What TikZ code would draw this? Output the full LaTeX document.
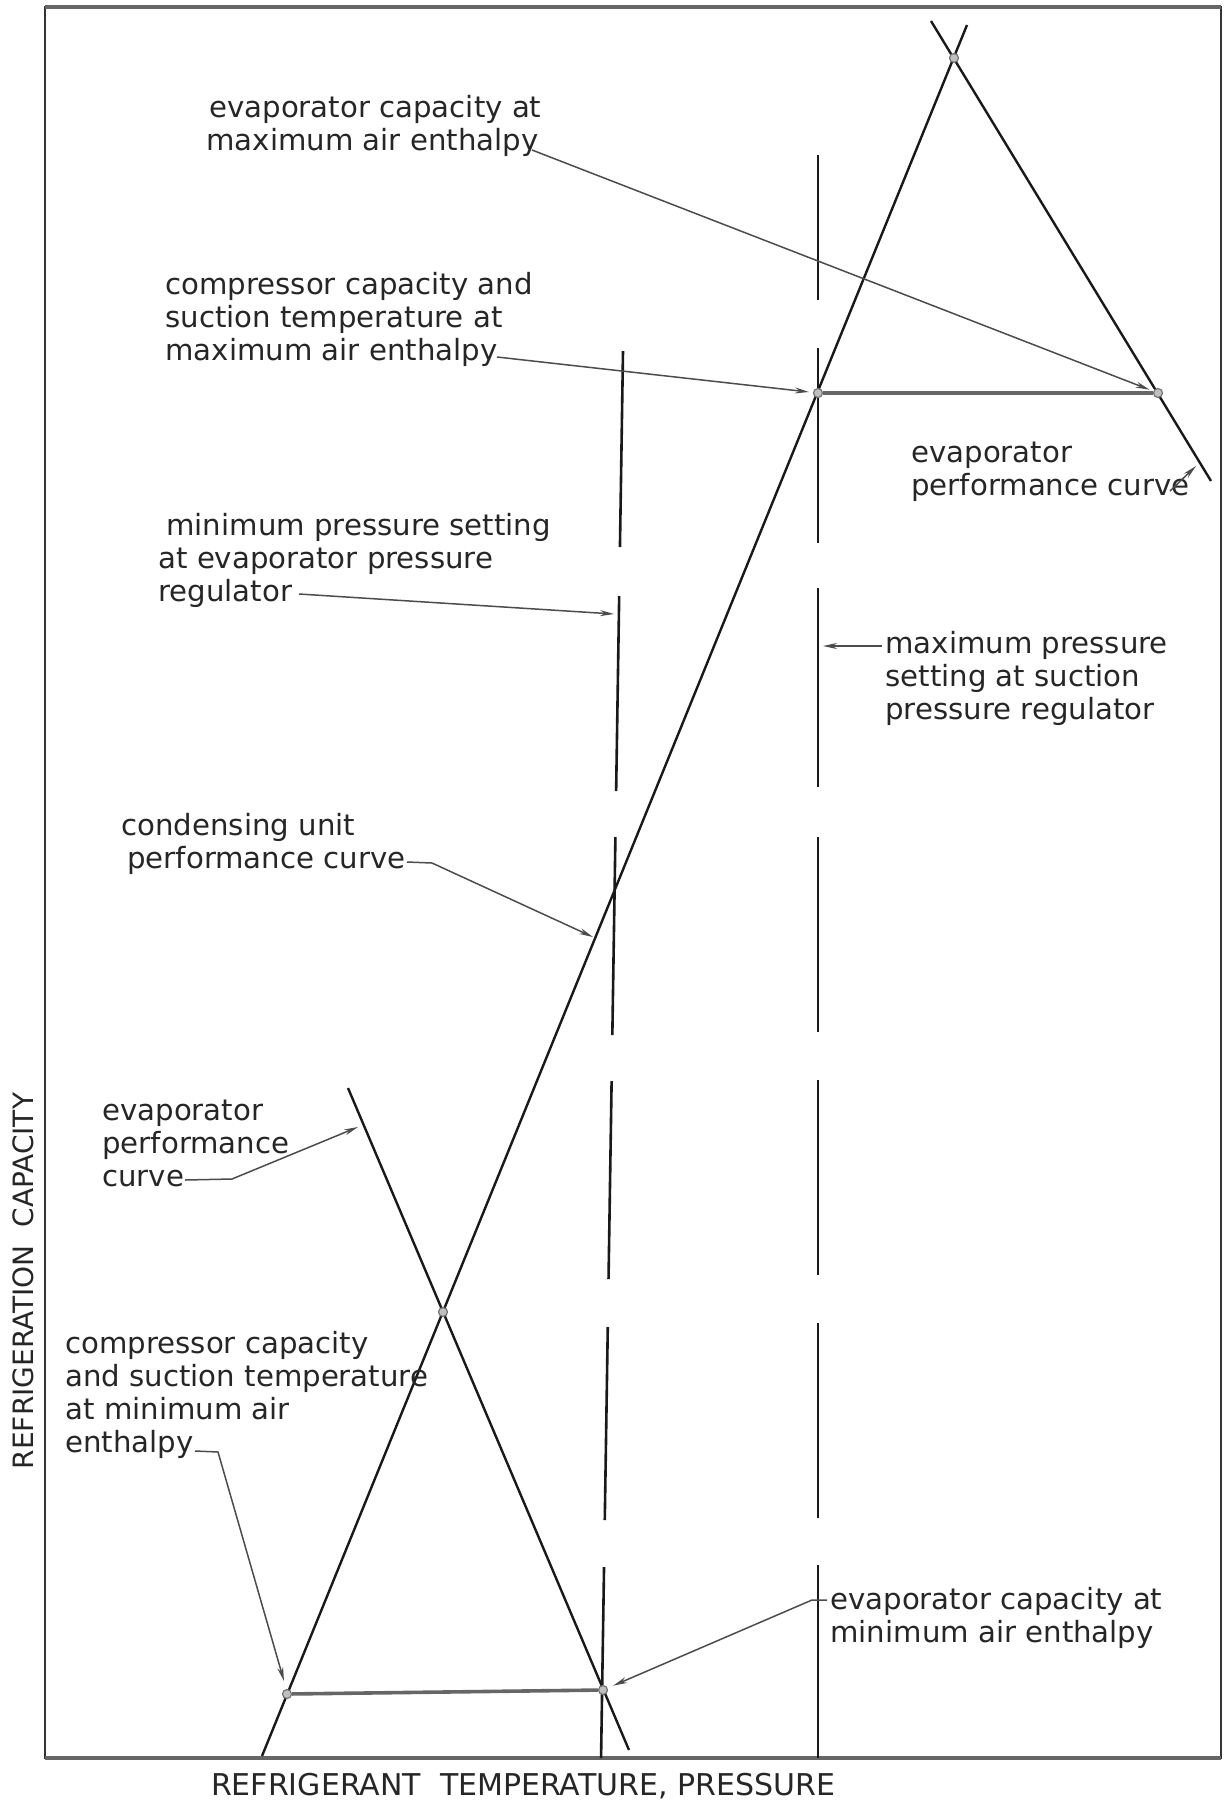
\documentclass[tikz,border=0pt]{standalone}
\usepackage{fontspec}
\setmainfont{DejaVu Sans}
\usetikzlibrary{arrows.meta}
\begin{document}
\begin{tikzpicture}[x=0.5pt,y=-0.5pt,
  lbl/.style={anchor=base west, align=left, inner sep=0pt, font=\fontsize{14.6}{16.4}\selectfont, text=black!85},
  curveline/.style={line width=1.2pt, black!90},
  vline/.style={line width=1.3pt, black!90},
  frameline/.style={line width=1.1pt, black!80},
  ipt/.style={circle, draw=black!55, fill=black!25, line width=0.6pt, inner sep=0pt, minimum size=4.5pt},
  hline/.style={line width=1.8pt, black!60},
  arr/.style={line width=0.75pt, black!70, -{Stealth[length=7pt,width=3pt]}, shorten >=2pt},
  axlbl/.style={inner sep=0pt, text=black!85}
]
\useasboundingbox (0,0) rectangle (1225,1805);
% frame
\draw[frameline] (45,7) rectangle (1221,1758);
\draw[line width=1.6pt, black!60] (45,7) -- (1221,7);
\draw[line width=1.6pt, black!60] (45,1758) -- (1221,1758);

% right vertical dashed line (maximum pressure)
\foreach \a/\b in {155/300,348/543,588/787,837/1032,1080/1275,1323/1518,1565/1758}
  \draw[vline] (818,\a) -- (818,\b);
% left vertical dashed line (minimum pressure), slightly slanted
\foreach \a/\b in {351/547,596/791,837/1035,1081/1279,1327/1520,1567/1758}
  \draw[vline] ({623-0.0156*(\a-351)},\a) -- ({623-0.0156*(\b-351)},\b);

% condensing unit performance curve
\draw[curveline] (967,25) -- (262,1756);
% upper evaporator performance curve
\draw[curveline] (931,21) -- (1211,481);
% lower evaporator performance curve
\draw[curveline] (348,1088) -- (629,1750);

% intersection points
\node[ipt] (Pap) at (954,58) {};
\node[ipt] (Pmaxc) at (818,393) {};
\node[ipt] (Pmaxe) at (1158,393) {};
\node[ipt] (Pcr) at (443,1312) {};
\node[ipt] (Pminc) at (287,1694) {};
\node[ipt] (Pmine) at (603,1690) {};

\draw[hline] (Pmaxc) -- (Pmaxe);
\draw[hline] (Pminc) -- (Pmine);

% labels (anchor = baseline of the last line)
\node[lbl] (T1) at (206,150) {\hspace*{1.5pt}evaporator capacity at\\maximum air enthalpy};
\node[lbl] (T2) at (165,360) {compressor capacity and\\suction temperature at\\maximum air enthalpy};
\node[lbl] (T3) at (911,495) {evaporator\\performance curve};
\node[lbl] (T4) at (158,601) {\hspace*{4pt}minimum pressure setting\\at evaporator pressure\\regulator};
\node[lbl] (T5) at (885,719) {maximum pressure\\setting at suction\\pressure regulator};
\node[lbl] (T6) at (121,868) {condensing unit\\\hspace*{3pt}performance curve};
\node[lbl] (T7) at (102,1186) {evaporator\\performance\\curve};
\node[lbl] (T8) at (65,1452) {compressor capacity\\and suction temperature\\at minimum air\\enthalpy};
\node[lbl] (T9) at (830,1642) {evaporator capacity at\\minimum air enthalpy};

\node[axlbl, font=\fontsize{15}{18}\selectfont, anchor=base] (XL) at (523,1795) {REFRIGERANT\ \ TEMPERATURE, PRESSURE};
\node[axlbl, font=\fontsize{14}{17}\selectfont, rotate=90] (YL) at (23,1281) {REFRIGERATION\ \ CAPACITY};

% leader coordinates
\coordinate (a1s) at (532,150);
\coordinate (a2s) at (497,357);
\coordinate (a3s) at (1170,491);
\coordinate (a3e) at (1196,466);
\coordinate (a4s) at (299,594);
\coordinate (a4e) at (614,614);
\coordinate (a5s) at (882,646);
\coordinate (a5e) at (823,646);
\coordinate (a6s) at (407,862);
\coordinate (a6k) at (432,863);
\coordinate (a6e) at (593,937);
\coordinate (a7s) at (185,1180);
\coordinate (a7k) at (232,1179);
\coordinate (a7e) at (358,1127);
\coordinate (a8s) at (195,1451);
\coordinate (a8k) at (218,1452);
\coordinate (a8e) at (284,1681);
\coordinate (a9s) at (827,1600);
\coordinate (a9k) at (812,1600);

\draw[arr] (a1s) -- (Pmaxe);
\draw[arr] (a2s) -- (Pmaxc);
\draw[arr, shorten >=0pt] (a3s) -- (a3e);
\draw[arr, shorten >=0pt] (a4s) -- (a4e);
\draw[arr, shorten >=0pt] (a5s) -- (a5e);
\draw[arr, shorten >=0pt] (a6s) -- (a6k) -- (a6e);
\draw[arr, shorten >=0pt] (a7s) -- (a7k) -- (a7e);
\draw[arr, shorten >=0pt] (a8s) -- (a8k) -- (a8e);
\draw[arr, shorten >=3pt] (a9s) -- (a9k) -- (Pmine);
\end{tikzpicture}
\end{document}
